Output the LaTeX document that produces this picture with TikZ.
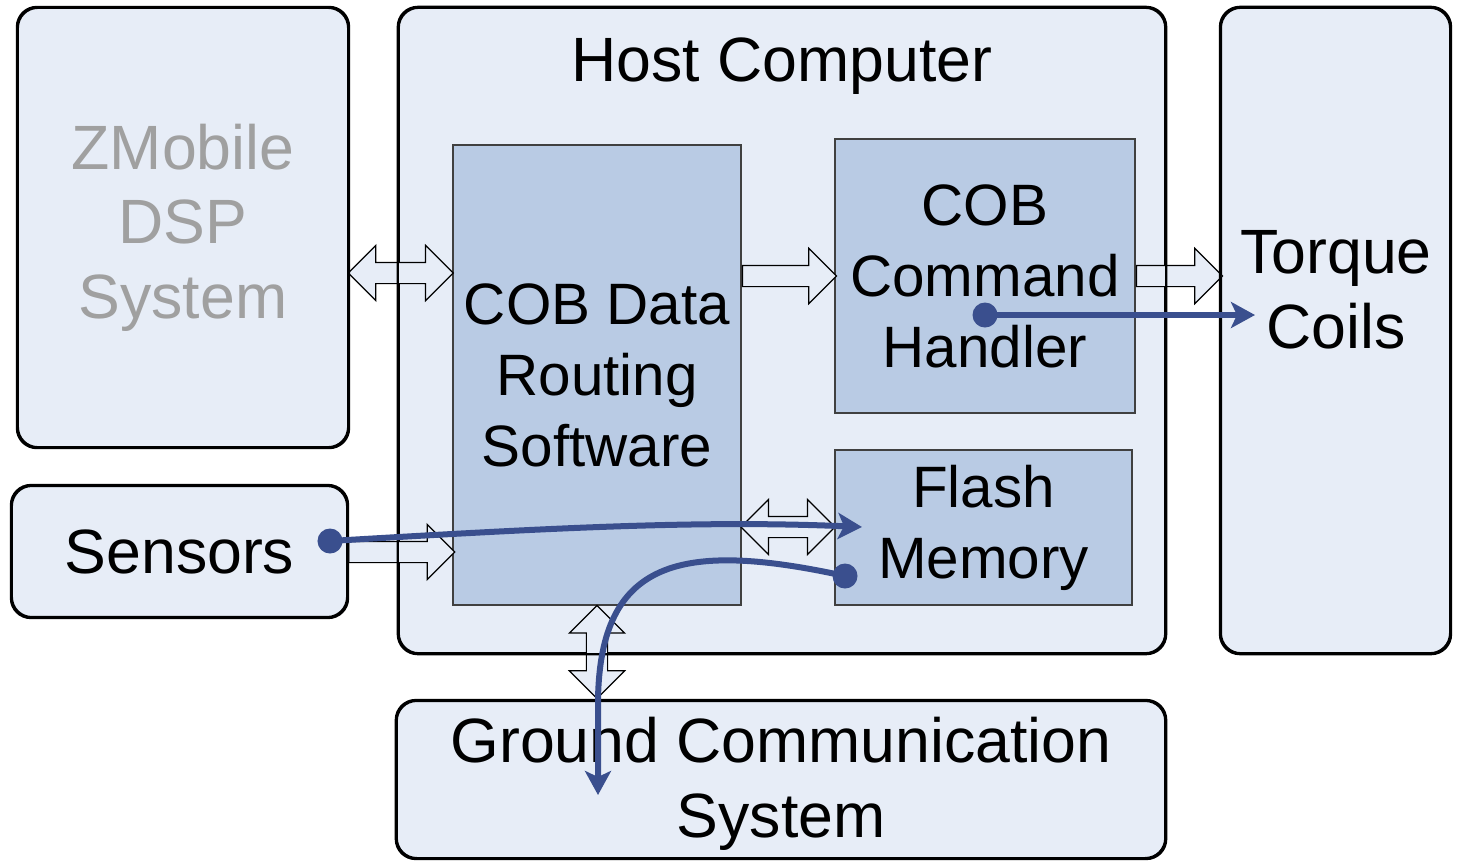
\documentclass[tikz,border=0pt]{standalone}
\usepackage{fontspec}
\setmainfont{Liberation Sans}
\usetikzlibrary{shapes.arrows,arrows.meta}

\definecolor{boxfill}{RGB}{231,237,247}
\definecolor{innerfill}{RGB}{185,203,228}
\definecolor{flowblue}{RGB}{58,79,142}
\definecolor{fadetext}{RGB}{160,160,160}

\tikzset{
  box/.style={draw, line width=0.6pt, rounded corners=0.2cm, fill=boxfill, inner sep=0pt, align=center,
    font=\fontsize{17.8}{21.2}\selectfont},
  boxline/.style={draw, line width=0.6pt, rounded corners=0.2cm},
  boxtext/.style={font=\fontsize{17.8}{21.2}\selectfont, align=center},
  innerbox/.style={draw=black!75, line width=0.4pt, fill=innerfill, inner sep=0pt, align=center,
    font=\fontsize{16.6}{20.2}\selectfont},
  fatarrow/.style={single arrow, draw, line width=0.35pt, fill=boxfill, inner sep=0.1cm,
    single arrow head extend=0.17cm, single arrow tip angle=90, anchor=tail},
  fatdouble/.style={double arrow, draw, line width=0.35pt, fill=boxfill, inner sep=0.1cm,
    double arrow head extend=0.17cm, double arrow tip angle=90},
  flow/.style={draw=flowblue, line width=0.06cm, -{Stealth[length=0.24cm,width=0.26cm,inset=0.06cm]}},
  flowdot/.style={fill=flowblue}
}

\begin{document}
\begin{tikzpicture}[x=0.01cm, y=-0.01cm]
  \useasboundingbox (0,0) rectangle (1457,860);
  % outer boxes
  \node[box, text=fadetext, minimum width=3.30cm, minimum height=4.39cm] (zm) at (183,227.5) {ZMobile\\DSP\\System};
  \node[box, minimum width=7.66cm, minimum height=6.45cm] (host) at (782,330.5) {};
  \node[box, minimum width=2.29cm, minimum height=6.45cm] (tq) at (1335.5,330.5) {};
  \node[box, minimum width=3.35cm, minimum height=1.31cm] (sens) at (179.5,551.5) {Sensors};
  \node[box, minimum width=7.68cm, minimum height=1.57cm] (gnd) at (781,779.5) {};
  \node[boxtext] (hostlbl) at (782,66) {Host Computer};
  \node[boxtext] (tqlbl) at (1336,290) {Torque\\Coils};
  \node[boxtext] (gndlbl) at (781,784) {Ground Communication\\System};
  % inner boxes
  \node[innerbox, minimum width=2.88cm, minimum height=4.60cm] (data) at (597,375) {COB Data\\Routing\\Software};
  \node[innerbox, minimum width=3.00cm, minimum height=2.74cm] (cmd) at (985,276) {COB\\Command\\Handler};
  \node[innerbox, minimum width=2.97cm, minimum height=1.55cm] (flash) at (983.5,527.5) {Flash\\Memory};
  % block arrows
  \path (zm.east |- 0,273) -- node[fatdouble, minimum height=1.05cm] (zmdata) {} (data.west |- 0,273);
  \node[fatarrow, minimum height=0.94cm] (datacmd) at (data.east |- 0,276) {};
  \node[fatarrow, minimum height=0.86cm] (cmdtq) at (cmd.east |- 0,276) {};
  \node[fatarrow, minimum height=1.06cm] (sensdata) at (sens.east |- 0,552) {};
  \path (data.east |- 0,527) -- node[fatdouble, minimum height=0.94cm] (dataflash) {} (flash.west |- 0,527);
  \path (data.south) -- node[fatdouble, shape border rotate=90, minimum height=0.93cm] (datagnd) {} (data.south |- 0,698);
  % borders over the arrows
  \foreach \b in {zm,host,tq,sens,gnd}
    \draw[boxline] (\b.north west) rectangle (\b.south east);
  % data flow
  \coordinate (cmddot) at (985,315);
  \coordinate (tqtip) at (1255,315);
  \coordinate (sensdot) at (330,541);
  \coordinate (flashtip) at (862,527);
  \coordinate (flashdot) at (845,576);
  \coordinate (gndtip) at (598,795);
  \draw[flow] (cmddot) -- (tqtip);
  \draw[flow] (sensdot) .. controls (550,528) and (700,520) .. (flashtip);
  \draw[flow] (flashdot) .. controls (680,540) and (600,560) .. (598,700) -- (gndtip);
  \foreach \d in {cmddot,sensdot,flashdot}
    \fill[flowdot] (\d) circle (0.125cm);
\end{tikzpicture}
\end{document}
